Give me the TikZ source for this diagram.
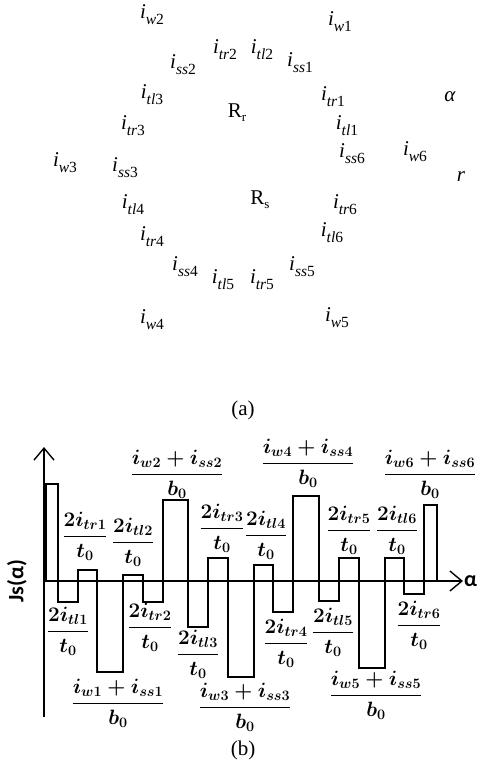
\documentclass[tikz,border=0pt]{standalone}
\usepackage{amsmath}
\usepackage{fontspec}
\setmainfont{Liberation Serif}
\newfontfamily\axisfont{Carlito}
\usetikzlibrary{arrows.meta}

\newcommand{\cur}[2]{\textit{i}\raisebox{-0.28em}{\fontsize{15.5}{16}\selectfont\textit{#1}#2}}

\begin{document}
\begin{tikzpicture}[x=1pt,y=-1pt,
  lab/.style={font=\fontsize{21}{23}\selectfont,inner sep=1pt},
  frc/.style={font=\fontsize{20}{22}\selectfont\boldmath,inner sep=0pt},
  axlab/.style={font=\axisfont\bfseries\fontsize{22}{24}\selectfont,inner sep=1pt},
  wave/.style={line width=1.4pt,line join=miter},
  axis/.style={line width=1.4pt,-{Straight Barb[length=12pt,width=20pt,line width=1.4pt]}}]
\useasboundingbox (0,0) rectangle (478,762);
\node[lab] (w2) at (152,15) {\cur{w}{2}};
\node[lab] (w1) at (340,22) {\cur{w}{1}};
\node[lab] (tr2) at (225,50) {\cur{tr}{2}};
\node[lab] (tl2) at (262,50) {\cur{tl}{2}};
\node[lab] (ss2) at (183,65) {\cur{ss}{2}};
\node[lab] (ss1) at (300,63) {\cur{ss}{1}};
\node[lab] (tl3) at (152,95) {\cur{tl}{3}};
\node[lab] (tr1) at (333,97) {\cur{tr}{1}};
\node[lab] (alpha) at (450,97) {\textit{α}};
\node[lab] (Rr) at (237,113) {R\raisebox{-0.2em}{\fontsize{13}{14}\selectfont r}};
\node[lab] (tr3) at (133,126) {\cur{tr}{3}};
\node[lab] (tl1) at (347,126) {\cur{tl}{1}};
\node[lab] (ss6) at (352,154) {\cur{ss}{6}};
\node[lab] (w6) at (415,152) {\cur{w}{6}};
\node[lab] (w3) at (65,163) {\cur{w}{3}};
\node[lab] (ss3) at (125,168) {\cur{ss}{3}};
\node[lab] (r) at (461,177) {\textit{r}};
\node[lab] (Rs) at (260,200) {R\raisebox{-0.2em}{\fontsize{13}{14}\selectfont s}};
\node[lab] (tl4) at (133,205) {\cur{tl}{4}};
\node[lab] (tr6) at (345,205) {\cur{tr}{6}};
\node[lab] (tr4) at (152,237) {\cur{tr}{4}};
\node[lab] (tl6) at (332,233) {\cur{tl}{6}};
\node[lab] (ss4) at (185,267) {\cur{ss}{4}};
\node[lab] (ss5) at (302,267) {\cur{ss}{5}};
\node[lab] (tl5) at (223,280) {\cur{tl}{5}};
\node[lab] (tr5) at (262,280) {\cur{tr}{5}};
\node[lab] (w4) at (152,320) {\cur{w}{4}};
\node[lab] (w5) at (337,318) {\cur{w}{5}};
\node[lab] (capa) at (243,410) {(a)};

\coordinate (o) at (44,581);
\coordinate (ytop) at (44,447);
\coordinate (ybot) at (44,717);
\coordinate (xend) at (463,581);
\draw[axis] (ybot) -- (ytop);
\draw[axis] (o) -- (xend);
\node[axlab,anchor=west] (xlab) at (xend) {α};
\node[axlab,rotate=90] (ylab) at (17,581) {Js(α)};
\draw[wave] (46,581) |- (58,484) |- (78,602) |- (97,570) |- (123,672) |- (143,575)
  |- (163,602) |- (188,500) |- (208,627) |- (228,558) |- (254,677) |- (273,565)
  |- (293,612) |- (319,496) |- (339,601) |- (359,558) |- (385,668) |- (404,558)
  |- (424,594) |- (437,505) -- (437,581);

\node[frc] (ftr1) at (85,536) {$\dfrac{2i_{tr1}}{t_0}$};
\node[frc] (ftl2) at (133,542) {$\dfrac{2i_{tl2}}{t_0}$};
\node[frc] (fw2) at (177,474) {$\dfrac{i_{w2}+i_{ss2}}{b_0}$};
\node[frc] (ftr3) at (222,528) {$\dfrac{2i_{tr3}}{t_0}$};
\node[frc] (ftl4) at (266,535) {$\dfrac{2i_{tl4}}{t_0}$};
\node[frc] (fw4) at (308,463) {$\dfrac{i_{w4}+i_{ss4}}{b_0}$};
\node[frc] (ftr5) at (349,530) {$\dfrac{2i_{tr5}}{t_0}$};
\node[frc] (ftl6) at (397,530) {$\dfrac{2i_{tl6}}{t_0}$};
\node[frc] (fw6) at (430,474) {$\dfrac{i_{w6}+i_{ss6}}{b_0}$};
\node[frc] (ftl1) at (68,631) {$\dfrac{2i_{tl1}}{t_0}$};
\node[frc] (fw1) at (118,703) {$\dfrac{i_{w1}+i_{ss1}}{b_0}$};
\node[frc] (ftr2) at (150,627) {$\dfrac{2i_{tr2}}{t_0}$};
\node[frc] (ftl3) at (198,654) {$\dfrac{2i_{tl3}}{t_0}$};
\node[frc] (fw3) at (245,707) {$\dfrac{i_{w3}+i_{ss3}}{b_0}$};
\node[frc] (ftr4) at (286,643) {$\dfrac{2i_{tr4}}{t_0}$};
\node[frc] (ftl5) at (333,632) {$\dfrac{2i_{tl5}}{t_0}$};
\node[frc] (fw5) at (376,695) {$\dfrac{i_{w5}+i_{ss5}}{b_0}$};
\node[frc] (ftr6) at (419,625) {$\dfrac{2i_{tr6}}{t_0}$};
\node[lab] (capb) at (243,750) {(b)};
\end{tikzpicture}
\end{document}
